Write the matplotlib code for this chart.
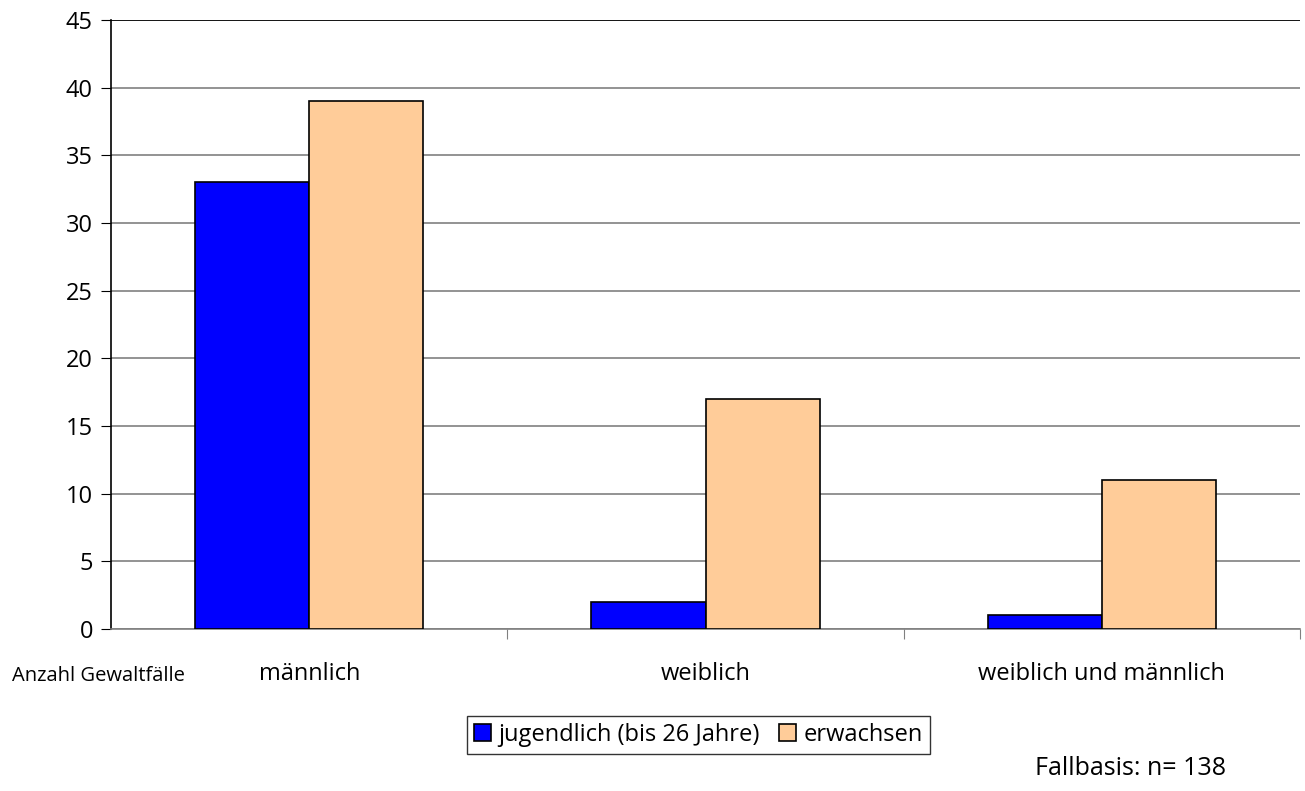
import numpy as np
import matplotlib.pyplot as plt

plt.rcParams['font.family'] = ['Open Sans', 'DejaVu Sans']

kategorien = ['männlich', 'weiblich', 'weiblich und männlich']
jugendlich = [33, 2, 1]
erwachsen = [39, 17, 11]
y_ticks = [0, 5, 10, 15, 20, 25, 30, 35, 40, 45]

fig = plt.figure(figsize=(13.05, 7.91), dpi=100)
ax = fig.add_axes([0.0851, 0.2048, 0.9111, 0.7699])

x = np.arange(len(kategorien))
w = 0.288
ax.bar(x - w/2, jugendlich, w, color='#0000ff', edgecolor='black', linewidth=1.2,
       label='jugendlich (bis 26 Jahre)', zorder=3)
ax.bar(x + w/2, erwachsen, w, color='#ffcc99', edgecolor='black', linewidth=1.2,
       label='erwachsen', zorder=3)

ax.set_xlim(-0.5, 2.5)
ax.set_ylim(0, 45)
ax.set_yticks(y_ticks)
ax.yaxis.grid(True, color='#808080', linewidth=1.2, zorder=0)
ax.set_xticks([0.5, 1.5, 2.5])
ax.set_xticklabels([])
ax.set_xticks(x, minor=True)
ax.set_xticklabels(kategorien, minor=True)
ax.tick_params(axis='x', which='minor', length=0, pad=24, labelsize=17)
ax.tick_params(axis='x', which='major', length=7, color='#808080')
ax.tick_params(axis='y', length=7, labelsize=17, pad=6)
ax.spines['top'].set_visible(False)
ax.spines['right'].set_visible(False)
ax.spines['bottom'].set_color('#808080')
ax.spines['bottom'].set_linewidth(1.2)
ax.spines['left'].set_linewidth(1.2)
ax.axhline(45, color='black', linewidth=1.2, zorder=2)

fig.text(0.0092, 0.145, 'Anzahl Gewaltfälle', fontsize=14.5, va='center', ha='left')
fig.text(0.866, 0.029, 'Fallbasis: n= 138', fontsize=18, va='center', ha='center')

leg = fig.legend(loc='center', bbox_to_anchor=(0.535, 0.071), ncol=2, fontsize=17,
                 frameon=True, fancybox=False, edgecolor='black', handlelength=0.75,
                 handleheight=0.75, handletextpad=0.3, columnspacing=0.8,
                 borderpad=0.3)
leg.get_frame().set_linewidth(1.0)

fig.savefig('out.png', dpi=100)
